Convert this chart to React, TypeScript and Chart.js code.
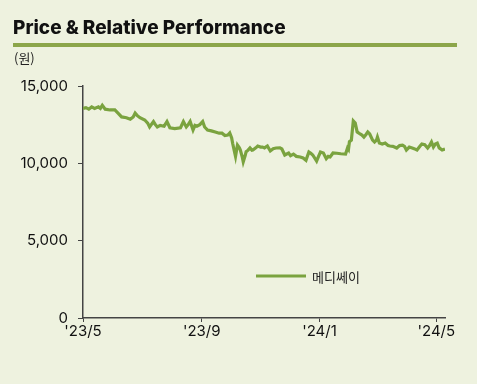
import React, { useEffect, useRef } from "react";
import { Chart, registerables } from "chart.js";

Chart.register(...registerables);

// days since 2023-05-01
const days = [0,3,6,9,12,16,18,20,23,28,33,37,40,45,49,52,54,56,59,64,67,69,73,75,77,80,84,87,90,95,101,104,107,109,111,114,116,118,121,124,126,129,133,137,141,144,147,150,152,154,155,158,160,162,163,165,166,168,169,171,173,175,176,179,181,184,186,188,191,194,197,200,204,206,209,213,215,218,221,225,228,231,234,236,238,242,244,246,249,252,254,256,259,263,267,272,274,275,276,278,280,282,284,287,289,291,293,295,297,300,302,304,305,307,310,313,316,318,321,325,328,331,333,335,338,341,343,346,349,351,354,357,359,361,363,365,367,369,372,375];
const prices = [13550,13600,13500,13650,13550,13650,13550,13750,13500,13450,13450,13200,13000,12950,12850,13000,13250,13100,12950,12800,12600,12350,12700,12500,12350,12450,12400,12700,12300,12250,12300,12700,12350,12500,12700,12150,12450,12400,12500,12700,12350,12150,12100,12030,11950,11950,11800,11830,11960,11640,11300,10450,11180,11000,10860,10400,10100,10500,10750,10850,10990,10850,10860,11000,11120,11050,11050,11000,11120,10800,10950,10990,11000,10930,10540,10670,10500,10600,10450,10410,10350,10200,10730,10650,10540,10150,10450,10730,10670,10300,10450,10410,10670,10650,10620,10600,10990,10900,11400,11500,12740,12600,12030,11900,11830,11700,11850,12030,11900,11500,11380,11500,11700,11310,11250,11310,11150,11120,11100,10990,11150,11180,11100,10860,11050,10990,10950,10860,11100,11250,11200,10990,11150,11380,11060,11250,11310,11000,10860,10930];

const tickDays = [0, 123, 245, 366];
const tickLabels = ["'23/5", "'23/9", "'24/1", "'24/5"];
const yTicks = [0, 5000, 10000, 15000];

const seriesName = "메디쎄이";
const titleText = "Price & Relative Performance";
const unitText = "(원)";

const BG = "#EEF2DF";
const LINE = "#7AA33F";
const AXIS = "#444444";
const FONT = "Inter, 'Noto Sans', 'Noto Sans CJK KR', sans-serif";

export default function App() {
  const ref = useRef<HTMLCanvasElement | null>(null);
  useEffect(() => {
    document.body.style.margin = "0";
    const canvas = ref.current!;
    const decor = {
      id: "decor",
      beforeDraw(chart: any) {
        const ctx = chart.ctx;
        ctx.save();
        ctx.fillStyle = BG;
        ctx.fillRect(0, 0, chart.width, chart.height);
        ctx.fillStyle = "#111";
        ctx.font = "800 19px " + FONT;
        ctx.textBaseline = "alphabetic";
        ctx.textAlign = "left";
        ctx.fillText(titleText, 13, 34);
        ctx.fillStyle = "#8CA64A";
        ctx.fillRect(13, 43, 444, 4);
        ctx.fillStyle = "#222";
        ctx.font = "13px 'Noto Sans CJK KR', " + FONT;
        ctx.textBaseline = "middle";
        ctx.fillText(unitText, 14, 58);
        ctx.restore();
      },
      afterDraw(chart: any) {
        const ctx = chart.ctx;
        ctx.save();
        ctx.strokeStyle = LINE;
        ctx.lineWidth = 3;
        ctx.beginPath();
        ctx.moveTo(256, 276);
        ctx.lineTo(306, 276);
        ctx.stroke();
        ctx.fillStyle = "#222";
        ctx.font = "13px 'Noto Sans CJK KR', sans-serif";
        ctx.textBaseline = "middle";
        ctx.textAlign = "left";
        ctx.fillText(seriesName, 312, 277);
        ctx.restore();
      },
    };
    const chart = new Chart(canvas, {
      type: "line",
      data: {
        datasets: [
          {
            label: seriesName,
            data: days.map((d, i) => ({ x: d, y: prices[i] })),
            borderColor: LINE,
            borderWidth: 3.2,
            pointRadius: 0,
            tension: 0,
            fill: false,
          },
        ],
      },
      options: {
        animation: false,
        responsive: false,
        layout: { padding: { top: 86, right: 32, left: 0, bottom: 0 } },
        plugins: { legend: { display: false }, tooltip: { enabled: false } },
        scales: {
          x: {
            type: "linear",
            min: 0,
            max: 375,
            afterFit: (s: any) => { s.height = 66; },
            afterBuildTicks: (s: any) => { s.ticks = tickDays.map((v) => ({ value: v })); },
            grid: { drawOnChartArea: false, drawTicks: true, tickLength: 4, color: AXIS },
            border: { color: AXIS, width: 1.5 },
            ticks: {
              autoSkip: false,
              maxRotation: 0,
              padding: 0,
              color: "#111",
              font: { size: 15, family: FONT },
              callback: (v: any) => { const i = tickDays.indexOf(Number(v)); return i >= 0 ? tickLabels[i] : ""; },
            },
          },
          y: {
            min: 0,
            max: 15000,
            afterFit: (s: any) => { s.width = 83; },
            afterBuildTicks: (s: any) => { s.ticks = yTicks.map((v) => ({ value: v })); },
            grid: { drawOnChartArea: false, drawTicks: true, tickLength: 5, color: AXIS },
            border: { color: AXIS, width: 1.5 },
            ticks: {
              padding: 10,
              color: "#111",
              font: { size: 15, family: FONT },
              callback: (v: any) => Number(v).toLocaleString("en-US"),
            },
          },
        },
      },
      plugins: [decor],
    } as any);
    return () => chart.destroy();
  }, []);
  return (
    <div style={{ position: "absolute", left: 0, top: 0, width: 477, height: 384, background: BG }}>
      <canvas ref={ref} width={477} height={384} style={{ display: "block", width: 477, height: 384 }} />
    </div>
  );
}
